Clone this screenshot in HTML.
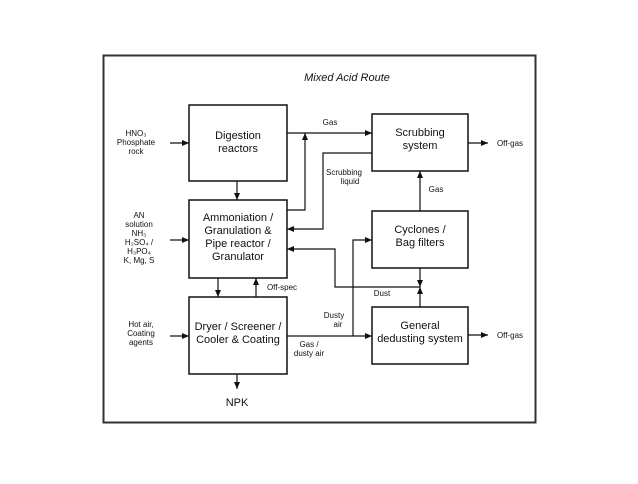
<!DOCTYPE html>
<html><head><style>
body{margin:0;background:#fff;width:638px;height:479px;overflow:hidden}
svg text{font-family:"Liberation Sans",Arial,sans-serif;fill:#111}
</style></head><body>
<svg width="638" height="479" viewBox="0 0 638 479">
<defs><marker id="a" markerWidth="8" markerHeight="8" refX="7" refY="4" orient="auto" markerUnits="userSpaceOnUse"><path d="M0,1 L7,4 L0,7Z" fill="#111"/></marker></defs>
<rect x="103.5" y="55.5" width="432" height="367" fill="none" stroke="#333" stroke-width="2"/>
<text x="347" y="81" font-size="11" font-style="italic" text-anchor="middle">Mixed Acid Route</text>
<g fill="none" stroke="#111" stroke-width="1.5">
<rect x="189" y="105" width="98" height="76"/>
<rect x="372" y="114" width="96" height="57"/>
<rect x="189" y="200" width="98" height="78"/>
<rect x="372" y="211" width="96" height="57"/>
<rect x="189" y="297" width="98" height="77"/>
<rect x="372" y="307" width="96" height="57"/>
</g>
<g fill="none" stroke="#111" stroke-width="1.2" marker-end="url(#a)">
<path d="M170 143H189"/><path d="M170 240H189"/><path d="M170 336H189"/>
<path d="M287 133H372"/>
<path d="M287 210H305V133"/>
<path d="M372 153H323V229H287"/>
<path d="M420 287H335V249H287"/>
<path d="M287 336H372"/>
<path d="M353 336V240H372"/>
<path d="M420 268V287"/><path d="M420 307V287"/>
<path d="M420 211V171"/>
<path d="M237 181V200"/><path d="M218 278V297"/><path d="M256 297V278"/>
<path d="M237 374V389"/>
<path d="M468 143H488"/><path d="M468 335H488"/>
</g>
<g font-size="11" text-anchor="middle">
<text x="238" y="139">Digestion</text><text x="238" y="152">reactors</text>
<text x="420" y="136">Scrubbing</text><text x="420" y="149">system</text>
<text x="238" y="221">Ammoniation /</text><text x="238" y="234">Granulation &amp;</text><text x="238" y="247">Pipe reactor /</text><text x="238" y="260">Granulator</text>
<text x="420" y="233">Cyclones /</text><text x="420" y="246">Bag filters</text>
<text x="238" y="330">Dryer / Screener /</text><text x="238" y="343">Cooler &amp; Coating</text>
<text x="420" y="329">General</text><text x="420" y="342">dedusting system</text>
<text x="237" y="406">NPK</text>
</g>
<g font-size="8" text-anchor="middle">
<text x="136" y="136">HNO₃</text><text x="136" y="145">Phosphate</text><text x="136" y="154">rock</text>
<text x="139" y="218">AN</text><text x="139" y="227">solution</text><text x="139" y="236">NH₃</text><text x="139" y="245">H₂SO₄ /</text><text x="139" y="254">H₃PO₄</text><text x="139" y="263">K, Mg, S</text>
<text x="141" y="327">Hot air,</text><text x="141" y="336">Coating</text><text x="141" y="345">agents</text>
<text x="330" y="125">Gas</text>
<text x="344" y="175">Scrubbing</text><text x="350" y="184">liquid</text>
<text x="436" y="192">Gas</text>
<text x="282" y="290">Off-spec</text>
<text x="382" y="296">Dust</text>
<text x="334" y="318">Dusty</text><text x="338" y="327">air</text>
<text x="309" y="347">Gas /</text><text x="309" y="356">dusty air</text>
<text x="510" y="146">Off-gas</text><text x="510" y="338">Off-gas</text>
</g>
</svg>
</body></html>
